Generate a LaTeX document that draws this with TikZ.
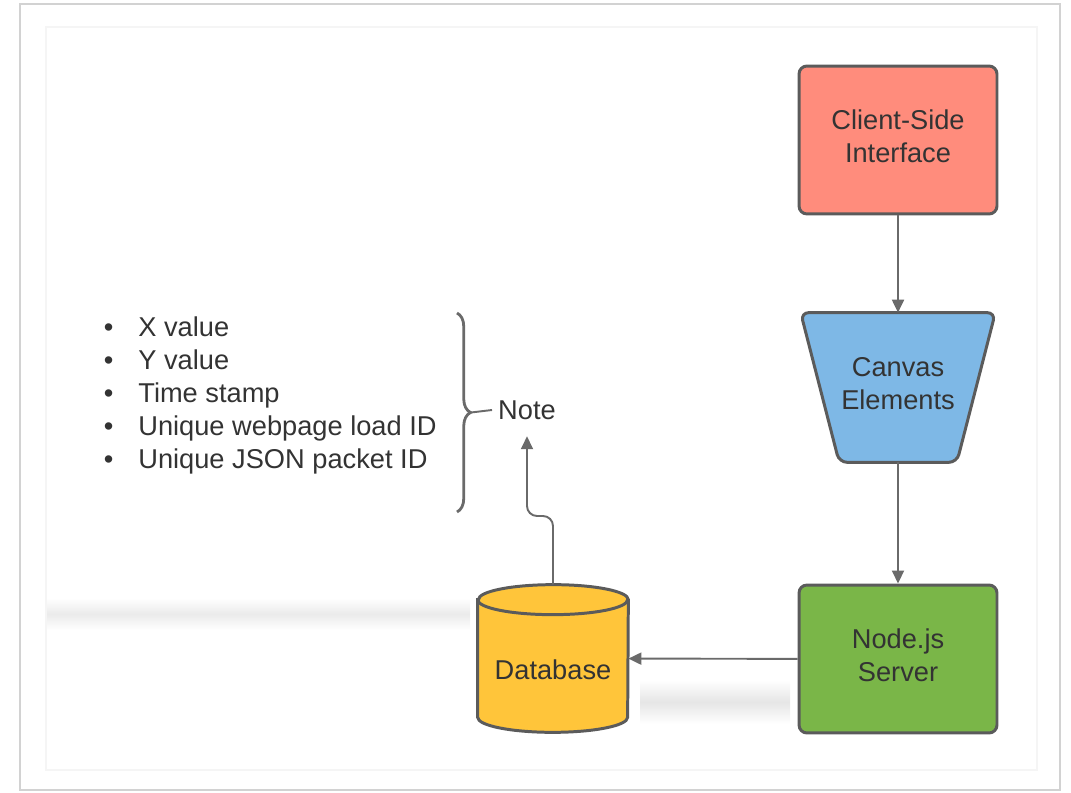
\documentclass[tikz,border=0pt]{standalone}
\usepackage{fontspec}
\setmainfont{Liberation Sans}
\usetikzlibrary{arrows.meta,decorations.pathreplacing,backgrounds}
\definecolor{clientred}{HTML}{FF8C7C}
\definecolor{canvasblue}{HTML}{7EB8E6}
\definecolor{servergreen}{HTML}{7AB648}
\definecolor{dbyellow}{HTML}{FFC53A}
\definecolor{edgegray}{HTML}{5B5B5B}
\definecolor{linegray}{HTML}{6A6A6A}
\definecolor{textgray}{HTML}{333333}

\begin{document}
\begin{tikzpicture}[x=0.02cm,y=-0.02cm,
  font=\fontsize{15.5}{18.7}\selectfont, text=textgray,
  edge/.style={draw=edgegray, line width=1.7pt},
  block/.style={edge, rounded corners=0.16cm, minimum width=3.96cm,
    minimum height=2.96cm, align=center, text depth=0.16cm},
  flow/.style={draw=linegray, line width=1.1pt,
    -{Triangle[length=0.26cm,width=0.24cm]}},
  item/.style={anchor=base west, inner sep=0pt}]
  \useasboundingbox (0,0) rectangle (1071,793);
  % frame
  \draw[gray!35, line width=0.8pt] (20,4) rectangle (1060,790);
  \draw[gray!8, line width=1pt] (46,27) rectangle (1037,770);

  % right column
  \node[block, fill=clientred] (client) at (898,140) {Client-Side\\Interface};
  \node[minimum width=3.88cm, minimum height=2.98cm, align=center,
    text depth=0.16cm] (canvas) at (898,387.5) {Canvas\\Elements};
  \node[block, fill=servergreen] (server) at (898,659) {Node.js\\Server};

  % database
  \node[minimum width=3cm, minimum height=2.94cm, text height=0.85cm,
    text depth=0cm] (db) at (553,658.5) {Database};

  \begin{scope}[on background layer]
    \shade[top color=white, bottom color=white, middle color=gray!16]
      (47,598) rectangle (470,630);
    \shade[top color=white, bottom color=white, middle color=gray!20]
      (640,680) rectangle (790,724);
    \draw[edge, fill=canvasblue, rounded corners=0.16cm] (canvas.north)
      -- (canvas.north east) -- ([xshift=-0.77cm]canvas.south east)
      -- ([xshift=0.77cm]canvas.south west) -- (canvas.north west) -- cycle;
    \draw[edge, fill=dbyellow] ([yshift=-0.3cm]db.north west)
      -- ([yshift=0.3cm]db.south west)
      arc[start angle=180, end angle=360, x radius=1.5cm, y radius=0.3cm]
      -- ([yshift=-0.3cm]db.north east)
      arc[start angle=0, end angle=180, x radius=1.5cm, y radius=0.3cm]
      -- cycle;
    \draw[edge] ([yshift=-0.3cm]db.north west)
      arc[start angle=180, end angle=360, x radius=1.5cm, y radius=0.3cm];
  \end{scope}

  % list and note
  \foreach \t [count=\i] in {X value, Y value, Time stamp,
      Unique webpage load ID, Unique JSON packet ID}
    \node[item] (item\i) at (103.5,{336.5+33*(\i-1)})
      {\textbullet\hspace{0.5cm}\t};
  \node (note) at (527,410) {Note};
  \coordinate (btop) at (457,313);
  \coordinate (bbot) at (457,512);
  \coordinate (btip) at (471,412.5);
  \coordinate (jog) at (553,516);
  \draw[draw=linegray, line width=1.6pt, decorate,
    decoration={brace, amplitude=0.27cm}] (btop) -- (bbot);
  \draw[draw=linegray, line width=1.1pt] (btip) -- (note.west);

  % connectors
  \draw[flow] (client) -- (canvas);
  \draw[flow] (canvas) -- (server);
  \draw[flow] (server) -- (db);
  \draw[flow, rounded corners=0.2cm, shorten >=6pt] (db.north) -- (jog)
    -- (jog -| note.south) -- (note.south);
\end{tikzpicture}
\end{document}
